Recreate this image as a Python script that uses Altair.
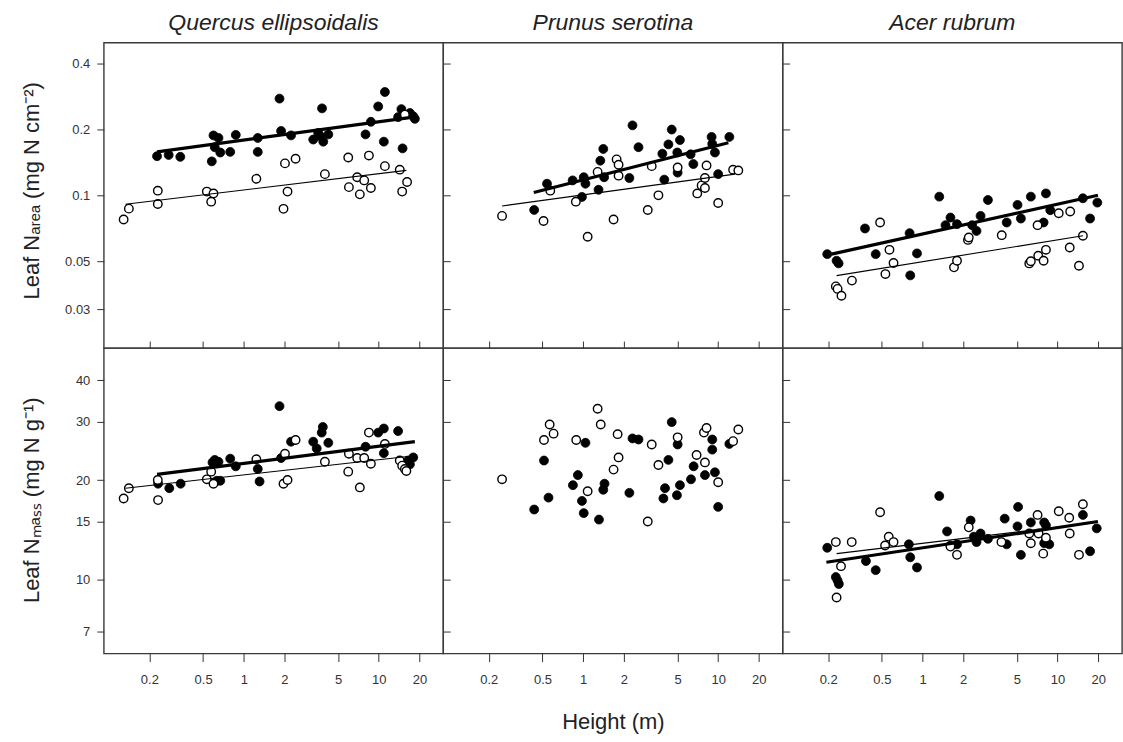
import altair as alt
import pandas as pd

# ---------------- data (height in m, leaf N) ----------------
# Quercus ellipsoidalis - N area (mg N cm-2)
QA_FILLED = [(0.228, 0.151), (0.278, 0.153), (0.339, 0.150), (0.58, 0.143), (0.597, 0.188), (0.61, 0.166),
             (0.650, 0.183), (0.67, 0.157), (0.794, 0.158), (0.873, 0.189), (1.27, 0.183), (1.27, 0.158),
             (1.84, 0.277), (1.89, 0.197), (2.24, 0.188), (3.27, 0.180), (3.56, 0.193), (3.67, 0.187),
             (3.80, 0.250), (3.88, 0.176), (4.23, 0.190), (7.98, 0.190), (8.74, 0.217), (9.90, 0.255),
             (10.9, 0.176), (11.1, 0.297), (13.9, 0.228), (14.7, 0.248), (15.0, 0.164), (17.0, 0.238),
             (18.0, 0.230), (18.5, 0.224)]
QA_OPEN = [(0.129, 0.0775), (0.141, 0.0869), (0.231, 0.105), (0.231, 0.0913), (0.533, 0.104), (0.597, 0.102),
           (0.574, 0.0935), (1.24, 0.119), (1.97, 0.0867), (2.02, 0.140), (2.11, 0.104), (2.42, 0.147),
           (3.99, 0.125), (5.94, 0.149), (6.01, 0.109), (6.92, 0.121), (7.24, 0.101), (7.80, 0.117),
           (8.45, 0.152), (8.74, 0.108), (11.1, 0.136), (14.3, 0.131), (14.9, 0.104), (16.2, 0.115),
           (15.6, 0.234)]
QA_FIT_FILLED = [(0.228, 0.158), (18.0, 0.228)]
QA_FIT_OPEN = [(0.133, 0.091), (16.0, 0.130)]

# Prunus serotina - N area
PA_FILLED = [(0.434, 0.0857), (0.540, 0.113), (0.836, 0.117), (0.980, 0.0983), (1.01, 0.121), (1.04, 0.113),
             (1.30, 0.106), (1.34, 0.144), (1.41, 0.163), (1.43, 0.121), (2.20, 0.120), (2.32, 0.209),
             (2.57, 0.166), (3.86, 0.155), (3.99, 0.118), (4.28, 0.171), (4.53, 0.200), (4.98, 0.157),
             (5.01, 0.127), (5.21, 0.179), (6.25, 0.154), (6.55, 0.139), (8.94, 0.185), (9.04, 0.172),
             (9.46, 0.157), (10.0, 0.125), (12.1, 0.185)]
PA_OPEN = [(0.251, 0.0805), (0.509, 0.0763), (0.571, 0.105), (0.883, 0.0935), (1.08, 0.0646), (1.28, 0.128),
           (1.68, 0.0775), (1.77, 0.146), (1.83, 0.138), (1.83, 0.123), (3.01, 0.0857), (3.22, 0.136),
           (3.61, 0.100), (5.01, 0.134), (7.00, 0.102), (7.54, 0.111), (7.98, 0.120), (7.98, 0.108),
           (8.20, 0.137), (10.0, 0.0922), (12.9, 0.131), (14.1, 0.130)]
PA_FIT_FILLED = [(0.431, 0.103), (11.9, 0.174)]
PA_FIT_OPEN = [(0.251, 0.0894), (13.3, 0.125)]

# Acer rubrum - N area
AA_FILLED = [(0.197, 0.0538), (0.231, 0.0502), (0.239, 0.0488), (0.375, 0.0705), (0.450, 0.0538),
             (0.802, 0.0671), (0.811, 0.0430), (0.910, 0.0542), (1.33, 0.0986), (1.48, 0.0730),
             (1.61, 0.0791), (1.80, 0.0738), (2.33, 0.0730), (2.51, 0.0687), (2.69, 0.0805), (3.05, 0.0952),
             (4.20, 0.0751), (5.05, 0.0904), (5.35, 0.0783), (6.34, 0.0986), (7.88, 0.0751), (8.20, 0.102),
             (8.83, 0.0855), (15.4, 0.0969), (17.4, 0.0783), (19.7, 0.0926)]
AA_OPEN = [(0.228, 0.0383), (0.235, 0.0373), (0.251, 0.0347), (0.300, 0.0407), (0.485, 0.0751),
           (0.531, 0.0436), (0.569, 0.0563), (0.610, 0.0490), (1.71, 0.0468), (1.80, 0.0502), (2.17, 0.0625),
           (2.20, 0.0641), (3.86, 0.0657), (6.17, 0.0488), (6.34, 0.0499), (7.11, 0.0730), (7.19, 0.0529),
           (7.88, 0.0502), (8.20, 0.0563), (10.2, 0.0828), (12.4, 0.0843), (12.3, 0.0577), (14.4, 0.0476),
           (15.4, 0.0653)]
AA_FIT_FILLED = [(0.212, 0.0538), (19.9, 0.100)]
AA_FIT_OPEN = [(0.231, 0.0429), (15.4, 0.0653)]

# Quercus ellipsoidalis - N mass (mg N g-1)
QM_FILLED = [(0.232, 19.5), (0.281, 18.9), (0.341, 19.5), (0.587, 22.6), (0.61, 23.0), (0.650, 22.7),
             (0.67, 19.9), (0.632, 19.9), (0.794, 23.2), (0.873, 22.0), (1.27, 21.6), (1.31, 19.8),
             (1.84, 33.4), (1.89, 23.3), (2.24, 26.1), (3.27, 26.1), (3.47, 24.9), (3.78, 27.8), (3.85, 28.9),
             (4.23, 25.9), (7.98, 25.2), (9.90, 27.8), (10.9, 28.6), (10.9, 24.1), (13.9, 28.1), (17.0, 22.3),
             (18.0, 23.4), (16.5, 22.9)]
QM_OPEN = [(0.129, 17.6), (0.141, 18.9), (0.231, 20.0), (0.232, 17.4), (0.533, 20.1), (0.574, 21.2),
           (0.597, 19.5), (1.24, 23.1), (1.97, 19.5), (2.02, 24.0), (2.11, 20.0), (2.42, 26.4), (3.99, 22.7),
           (5.94, 21.2), (6.01, 24.0), (6.92, 23.3), (7.24, 19.0), (7.80, 23.3), (8.45, 27.8), (8.74, 22.4),
           (11.1, 25.7), (14.3, 22.9), (14.9, 22.1), (15.6, 21.6), (16.0, 21.3)]
QM_FIT_FILLED = [(0.228, 20.8), (18.5, 26.1)]
QM_FIT_OPEN = [(0.133, 18.9), (17.0, 23.6)]

# Prunus serotina - N mass (no fitted lines)
PM_FILLED = [(0.434, 16.3), (0.513, 22.9), (0.554, 17.7), (0.840, 19.3), (0.914, 20.7), (0.980, 17.3),
             (1.01, 15.9), (1.04, 25.9), (1.31, 15.2), (1.41, 18.7), (1.44, 19.5), (2.20, 18.3), (2.32, 26.7),
             (2.57, 26.5), (3.93, 17.6), (4.04, 18.9), (4.28, 23.0), (4.53, 29.9), (4.95, 18.0), (5.01, 25.6),
             (5.21, 19.3), (6.29, 20.1), (6.58, 22.0), (7.98, 20.7), (9.04, 26.5), (9.04, 24.7), (9.46, 21.1),
             (10.0, 16.6), (12.1, 25.7)]
PM_OPEN = [(0.251, 20.1), (0.513, 26.4), (0.565, 29.4), (0.604, 27.6), (0.889, 26.4), (1.08, 18.5),
           (1.28, 32.8), (1.35, 29.4), (1.68, 21.5), (1.80, 27.5), (1.83, 23.4), (3.01, 15.0), (3.22, 25.6),
           (3.61, 22.2), (5.01, 26.9), (6.92, 23.8), (7.85, 27.8), (7.98, 22.6), (8.20, 28.7), (10.0, 19.7),
           (12.9, 26.2), (14.1, 28.4)]

# Acer rubrum - N mass
AM_FILLED = [(0.197, 12.5), (0.228, 10.2), (0.235, 9.95), (0.240, 9.72), (0.381, 11.4), (0.450, 10.7),
             (0.792, 12.8), (0.811, 11.7), (0.910, 10.9), (1.33, 17.9), (1.52, 14.0), (1.61, 12.7), (1.80, 12.8),
             (2.27, 15.1), (2.40, 13.5), (2.51, 13.0), (2.69, 13.8), (3.05, 13.3), (4.06, 15.3), (4.20, 12.8),
             (5.05, 14.5), (5.10, 16.6), (5.35, 11.9), (6.34, 14.9), (7.96, 14.9), (7.96, 12.9), (8.20, 14.6),
             (8.68, 12.8), (15.4, 15.7), (17.4, 12.2), (19.5, 14.3)]
AM_OPEN = [(0.228, 13.0), (0.231, 8.85), (0.249, 11.0), (0.299, 13.0), (0.485, 16.0), (0.528, 12.7),
           (0.562, 13.5), (0.610, 13.0), (1.61, 12.6), (1.80, 11.9), (2.20, 14.4), (3.84, 13.0), (6.17, 13.8),
           (6.34, 12.9), (7.11, 15.7), (7.23, 13.8), (7.83, 12.0), (8.20, 13.4), (10.2, 16.1), (12.2, 15.4),
           (12.3, 13.8), (14.4, 11.9), (15.4, 16.9)]
AM_FIT_FILLED = [(0.194, 11.3), (19.9, 15.0)]
AM_FIT_OPEN = [(0.231, 12.0), (19.3, 14.9)]

SPECIES = ["Quercus ellipsoidalis", "Prunus serotina", "Acer rubrum"]
X_TICKS = [0.2, 0.5, 1, 2, 5, 10, 20]
Y_TICKS_AREA = [0.03, 0.05, 0.1, 0.2, 0.4]
Y_TICKS_MASS = [7, 10, 15, 20, 30, 40]
X_DOMAIN = [0.092, 30]
Y_DOMAIN_AREA = [0.02, 0.5]
Y_DOMAIN_MASS = [6, 50]
Y_TITLE_AREA = "Leaf Nₐᵣₑₐ (mg N cm⁻²)"
Y_TITLE_MASS = "Leaf Nₘₐₛₛ (mg N g⁻¹)"
X_TITLE = "Height (m)"

# ---------------- layout ----------------
W, H = 340, 306
FONT = "Liberation Sans"
INK = "#333333"


def panel(filled, opened, fits, row, col):
    top = row == 0
    ydom = Y_DOMAIN_AREA if top else Y_DOMAIN_MASS
    yticks = Y_TICKS_AREA if top else Y_TICKS_MASS
    xs = alt.Scale(type="log", domain=X_DOMAIN, nice=False)
    ys = alt.Scale(type="log", domain=ydom, nice=False)

    if top:
        xaxis = alt.Axis(values=X_TICKS, labels=False, tickSize=7, offset=-7, domain=False,
                         grid=False, title=None, tickColor=INK)
    else:
        kw = dict(values=X_TICKS, format="~g", tickSize=8, labelPadding=22, labelBaseline="alphabetic",
                  domain=False, grid=False, tickColor=INK, labelColor=INK, labelFontSize=13, labelFont=FONT)
        if col == 1:
            xaxis = alt.Axis(title=X_TITLE, titleX=W / 2, titleY=75, titleAlign="center",
                             titleBaseline="alphabetic", titleFontSize=22, titleFontWeight="normal",
                             titleFont=FONT, titleColor="#222222", **kw)
        else:
            xaxis = alt.Axis(title=None, **kw)

    if col == 0:
        yaxis = alt.Axis(values=yticks, format="~g", tickSize=7, labelPadding=7, domain=False, grid=False,
                         tickColor=INK, labelColor=INK, labelFontSize=13, labelFont=FONT,
                         title=Y_TITLE_AREA if top else Y_TITLE_MASS, titleX=-72,
                         titleY=148 if top else 152, titleAngle=270, titleAlign="center",
                         titleBaseline="middle", titleFontSize=22, titleFontWeight="normal",
                         titleFont=FONT, titleColor="#222222")
    else:
        yaxis = alt.Axis(values=yticks, labels=False, tickSize=7, offset=-7, domain=False, grid=False,
                         title=None, tickColor=INK)

    def enc(ch):
        return ch.encode(x=alt.X("h:Q", scale=xs, axis=xaxis), y=alt.Y("n:Q", scale=ys, axis=yaxis))

    df_f = pd.DataFrame(filled, columns=["h", "n"])
    df_o = pd.DataFrame(opened, columns=["h", "n"])
    layers = [
        enc(alt.Chart(df_f).mark_circle(size=80, color="black", opacity=1, stroke="black", strokeWidth=0.8)),
        enc(alt.Chart(df_o).mark_point(shape="circle", filled=True, fill="white", stroke="black",
                                       strokeWidth=1.4, size=72, opacity=1)),
    ]
    if fits is not None:
        fit_f, fit_o = fits
        layers.append(enc(alt.Chart(pd.DataFrame(fit_f, columns=["h", "n"]))
                          .mark_line(color="black", strokeWidth=3.2)))
        layers.append(enc(alt.Chart(pd.DataFrame(fit_o, columns=["h", "n"]))
                          .mark_line(color="black", strokeWidth=1.1)))
    ch = alt.layer(*layers).properties(width=W, height=H)
    if top:
        ch = ch.properties(title=alt.TitleParams(SPECIES[col], fontStyle="italic", fontSize=23,
                                                 fontWeight="normal", font=FONT, color="#222222",
                                                 baseline="bottom", offset=-15, anchor="middle"))
    return ch


panels = [
    panel(QA_FILLED, QA_OPEN, (QA_FIT_FILLED, QA_FIT_OPEN), 0, 0),
    panel(PA_FILLED, PA_OPEN, (PA_FIT_FILLED, PA_FIT_OPEN), 0, 1),
    panel(AA_FILLED, AA_OPEN, (AA_FIT_FILLED, AA_FIT_OPEN), 0, 2),
    panel(QM_FILLED, QM_OPEN, (QM_FIT_FILLED, QM_FIT_OPEN), 1, 0),
    panel(PM_FILLED, PM_OPEN, None, 1, 1),
    panel(AM_FILLED, AM_OPEN, (AM_FIT_FILLED, AM_FIT_OPEN), 1, 2),
]

chart = (
    alt.concat(*panels, columns=3, spacing=0, bounds="flush")
    .properties(padding={"left": 20, "top": 10, "right": 0, "bottom": 5}, background="white")
    .configure_view(stroke="#3a3a3a", strokeWidth=1.4)
)

chart.save("out.html", embed_options={"renderer": "svg", "actions": False})
